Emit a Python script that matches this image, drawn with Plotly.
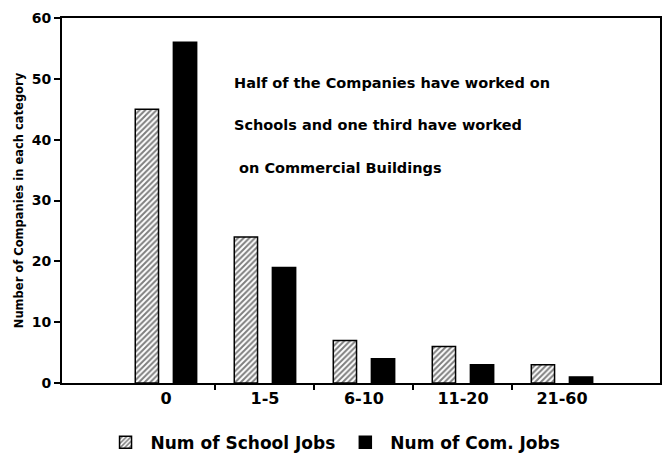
import plotly.graph_objects as go

categories = ["0", "1-5", "6-10", "11-20", "21-60"]
school_jobs = [45, 24, 7, 6, 3]
com_jobs = [56, 19, 4, 3, 1]

annotation_lines = [
    "Half of the Companies have worked on",
    "Schools and one third have worked",
    " on Commercial Buildings",
]

FONT = "DejaVu Sans"
idx = list(range(len(categories)))
boundaries = [i + 0.5 for i in idx[:-1]]

fig = go.Figure()
fig.add_trace(go.Bar(
    x=idx, y=school_jobs, name="Num of School Jobs",
    offset=-0.31, width=0.235,
    marker=dict(color="white",
                line=dict(color="black", width=1.5),
                pattern=dict(shape="/", fgcolor="black", bgcolor="white",
                             size=4, solidity=0.5)),
))
fig.add_trace(go.Bar(
    x=idx, y=com_jobs, name="Num of Com. Jobs",
    offset=0.075, width=0.235,
    marker=dict(color="black", line=dict(color="black", width=1.5)),
))

ann_y = [49.3, 42.4, 35.4]
for txt, yy in zip(annotation_lines, ann_y):
    fig.add_annotation(x=0.285, xref="paper", y=yy, yref="y", text=txt,
                       showarrow=False, xanchor="left", yanchor="middle",
                       font=dict(family=FONT, size=14.5, color="black", weight="bold"))

# page body has an 8px default margin, so the figure is sized to fit inside it
fig.update_layout(
    width=654, height=451,
    margin=dict(l=54, r=2, t=10, b=76),
    paper_bgcolor="white", plot_bgcolor="white",
    barmode="overlay",
    font=dict(family=FONT, color="black", weight="bold"),
    legend=dict(orientation="h", xref="container", yref="container",
                x=0.497, xanchor="center", y=0.036, yanchor="middle",
                font=dict(family=FONT, size=17, weight="bold"),
                itemwidth=40, traceorder="normal"),
    showlegend=True,
)
fig.update_xaxes(
    range=[-1.05, 4.99], automargin=False,
    tickmode="array", tickvals=idx, ticktext=categories, ticks="",
    tickfont=dict(size=16, weight="bold"),
    minor=dict(tickmode="array", tickvals=boundaries, ticks="outside",
               ticklen=5, tickwidth=2, tickcolor="black", showgrid=False),
    showline=True, linecolor="black", linewidth=2, mirror=True,
    showgrid=False, zeroline=False,
)
fig.update_yaxes(
    range=[0, 60], dtick=10, ticks="outside", ticklen=6, tickwidth=2,
    automargin=False, ticklabeloverflow="allow",
    tickcolor="black", tickfont=dict(size=14, weight="bold"),
    showline=True, linecolor="black", linewidth=2, mirror=True,
    showgrid=False, zeroline=False,
    title=dict(text="Number of Companies in each category",
               font=dict(size=11.5, weight="bold"), standoff=6),
)

fig.write_html("out.html")
